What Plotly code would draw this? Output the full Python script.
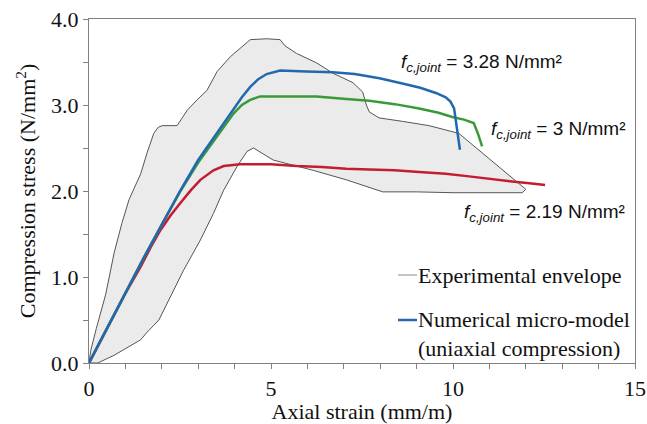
import plotly.graph_objects as go

# ---- data ----
env_upper_x = [0, 0.05, 0.2, 0.46, 0.69, 0.9, 1.1, 1.42, 1.6, 1.78, 1.9, 2.01, 2.42, 2.70, 2.97, 3.24, 3.52, 3.88,
               4.43, 4.88, 5.25, 5.38, 5.70, 6.25, 6.70, 7.25, 7.52, 7.62, 7.70, 7.97, 8.61, 9.34, 10.16, 11.0, 12.0]
env_upper_y = [0, 0.15, 0.40, 0.80, 1.28, 1.62, 1.90, 2.20, 2.45, 2.67, 2.74, 2.76, 2.76, 2.94, 3.06, 3.17, 3.39, 3.56,
               3.76, 3.77, 3.76, 3.69, 3.60, 3.49, 3.37, 3.26, 3.15, 3.00, 2.92, 2.85, 2.81, 2.76, 2.67, 2.37, 2.02]
env_lower_x = [11.9, 11.0, 10.0, 9.0, 8.07, 7.07, 6.16, 5.06, 4.84, 4.52, 4.34, 4.06, 3.70, 3.42, 3.06, 2.60, 2.33,
               2.19, 1.92, 1.60, 1.42, 0.69, 0.24]
env_lower_y = [1.98, 1.98, 1.98, 1.99, 1.99, 2.13, 2.24, 2.36, 2.42, 2.50, 2.46, 2.28, 2.01, 1.74, 1.43, 1.08, 0.85,
               0.73, 0.50, 0.36, 0.27, 0.09, 0.0]

blue_x = [0, 0.5, 1.0, 1.5, 2.0, 2.5, 3.0, 3.42, 3.7, 3.97, 4.2, 4.43, 4.65, 4.88, 5.25, 5.97, 6.70, 7.3, 7.98,
          8.61, 9.1, 9.53, 9.8, 9.93, 10.03, 10.19]
blue_y = [0, 0.41, 0.82, 1.22, 1.61, 2.0, 2.36, 2.62, 2.79, 2.95, 3.09, 3.21, 3.30, 3.36, 3.40, 3.39, 3.38, 3.36,
          3.31, 3.25, 3.20, 3.14, 3.09, 3.04, 2.96, 2.48]

green_x = [0, 0.5, 1.0, 1.5, 2.0, 2.5, 3.0, 3.42, 3.7, 3.97, 4.2, 4.43, 4.7, 5.5, 6.25, 7.07, 7.7, 8.4, 9.07, 9.6,
           9.98, 10.3, 10.57, 10.7, 10.8]
green_y = [0, 0.41, 0.82, 1.22, 1.61, 1.99, 2.33, 2.58, 2.75, 2.90, 3.00, 3.06, 3.10, 3.10, 3.10, 3.07, 3.05, 3.01,
           2.96, 2.91, 2.86, 2.83, 2.79, 2.65, 2.52]

red_x = [0, 0.5, 1.0, 1.42, 1.7, 1.97, 2.25, 2.51, 2.8, 3.06, 3.25, 3.42, 3.7, 4.15, 5.0, 5.7, 6.4, 7.07, 7.7, 8.4,
         9.07, 9.8, 10.44, 11.0, 11.62, 12.1, 12.53]
red_y = [0, 0.41, 0.81, 1.12, 1.35, 1.55, 1.72, 1.86, 2.01, 2.13, 2.19, 2.24, 2.29, 2.31, 2.31, 2.29, 2.28, 2.26,
         2.25, 2.24, 2.22, 2.20, 2.17, 2.14, 2.11, 2.09, 2.07]

labels = [
    ("<i>f</i><sub><i>c,joint</i></sub> = 3.28 N/mm²", 8.52, 3.49),
    ("<i>f</i><sub><i>c,joint</i></sub> = 3 N/mm²", 11.0, 2.71),
    ("<i>f</i><sub><i>c,joint</i></sub> = 2.19 N/mm²", 10.25, 1.74),
]

BLUE = "#2368ae"
GREEN = "#3a9a3a"
RED = "#c21d30"
SERIF = "Liberation Serif, Times New Roman, serif"
SANS = "Liberation Sans, Arial, sans-serif"

fig = go.Figure()
fig.add_trace(go.Scatter(x=env_upper_x + env_lower_x + [env_upper_x[0]],
                         y=env_upper_y + env_lower_y + [env_upper_y[0]],
                         fill="toself", fillcolor="#ebebeb", mode="lines",
                         line=dict(color="#555555", width=1), showlegend=False))
fig.add_trace(go.Scatter(x=red_x, y=red_y, mode="lines", line=dict(color=RED, width=2.5), showlegend=False))
fig.add_trace(go.Scatter(x=green_x, y=green_y, mode="lines", line=dict(color=GREEN, width=2.5), showlegend=False))
fig.add_trace(go.Scatter(x=blue_x, y=blue_y, mode="lines", line=dict(color=BLUE, width=2.5), showlegend=False))

for txt, x, y in labels:
    fig.add_annotation(x=x, y=y, xref="x", yref="y", text=txt, showarrow=False, xanchor="left", yanchor="middle",
                       font=dict(family=SANS, size=19, color="#111111"))

# custom legend (paper coords)
PL, PR, PT, PB = 89, 635, 19, 363
def px2paper(px, py):
    return (px - PL) / float(PR - PL), (PB - py) / float(PB - PT)

for (py, col, w) in [(275, "#888888", 1), (320, BLUE, 2.5)]:
    x0, y0 = px2paper(398, py)
    x1, _ = px2paper(417, py)
    fig.add_shape(type="line", xref="paper", yref="paper", x0=x0, x1=x1, y0=y0, y1=y0,
                  line=dict(color=col, width=w))
lx, ly = px2paper(416, 275)
fig.add_annotation(x=lx, y=ly, xref="paper", yref="paper", text="Experimental envelope", showarrow=False,
                   xanchor="left", yanchor="middle", font=dict(family=SERIF, size=22, color="#111111"))
lx, ly = px2paper(416, 334)
fig.add_annotation(x=lx, y=ly, xref="paper", yref="paper",
                   text="Numerical micro-model<br>(uniaxial compression)", showarrow=False, align="left",
                   xanchor="left", yanchor="middle", font=dict(family=SERIF, size=22, color="#111111"))

axis_common = dict(showgrid=False, zeroline=False, showline=True, linecolor="#808080", linewidth=1.3,
                   mirror=True, ticks="outside", ticklen=5, tickcolor="#808080", tickwidth=1,
                   automargin=False, tickfont=dict(family=SERIF, size=22, color="#111111"))
fig.update_xaxes(range=[0, 15], tickmode="linear", tick0=0, dtick=5,
                 minor=dict(dtick=1, ticks="outside", ticklen=5, tickcolor="#808080", showgrid=False),
                 title=dict(text="Axial strain (mm/m)", font=dict(family=SERIF, size=22, color="#111111"),
                            standoff=7), **axis_common)
fig.update_yaxes(range=[0, 4], tickmode="linear", tick0=0, dtick=1, tickformat=".1f",
                 minor=dict(dtick=0.5, ticks="outside", ticklen=5, tickcolor="#808080", showgrid=False),
                 title=dict(text="Compression stress (N/mm<sup>2</sup>)",
                            font=dict(family=SERIF, size=22, color="#111111"), standoff=9), **axis_common)

fig.update_layout(width=647, height=424, margin=dict(l=PL, r=647 - PR, t=PT, b=424 - PB),
                  plot_bgcolor="white", paper_bgcolor="white", showlegend=False)

fig.write_html("out.html")
